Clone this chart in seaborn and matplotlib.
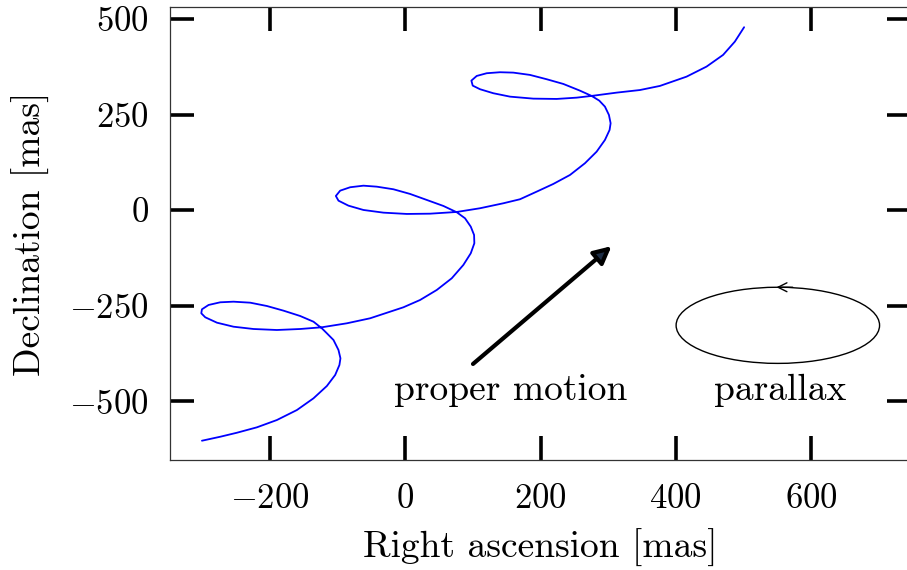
import matplotlib
matplotlib.use("Agg")
import matplotlib.pyplot as plt
from matplotlib.patches import Ellipse
import seaborn as sns
import pandas as pd

# Apparent stellar path, in mas
ra = [-301, -273.9, -249.2, -219.7, -190.1, -160.5, -136, -116.2, -103.9, -97.6,
      -96.1, -99, -106.4, -116.2, -123.6, -136, -155.7, -180.3, -204.9, -229.6,
      -254.3, -273.9, -291.2, -301, -302, -296.1, -278.8, -254.3, -224.7, -190.1,
      -155.7, -123.6, -86.6, -52.2, -3, 21.7, 46.4, 68.6, 85.7, 96.7,
      102, 101.6, 96.7, 88.2, 76, 56.2, 31.6, 6.9, -17.7, -42.3,
      -62.1, -81.7, -96.5, -102.9, -99, -84.3, -62.1, -32.5, 2.1, 36.5,
      76, 110.4, 144.9, 169.5, 194.2, 218.8, 243.5, 265.6, 282.9, 295.2,
      302.1, 303.6, 301.1, 295.2, 286.8, 275.5, 258.2, 233.6, 209, 184.3,
      159.6, 140, 120.3, 105.5, 97.6, 99.6, 110.4, 130.1, 154.8, 189.2,
      223.8, 253.4, 275.5, 312.5, 347, 376.5, 416, 445.5, 470, 487.4, 501.1]
dec = [-602.6, -592.2, -581.7, -567.6, -548.5, -522.4, -491.8, -459.6, -430.8, -404.7,
       -387.2, -365.5, -339.3, -321.8, -308.8, -291.5, -276.6, -262.7, -250.5, -241.8,
       -239.2, -240.8, -247.8, -259.1, -269.5, -280, -294.1, -304.6, -310.6, -313.2,
       -310.6, -306.1, -295.7, -282.6, -253.9, -234.8, -208.6, -178, -143.3, -112.7,
       -86.5, -64.8, -43.1, -21.2, -5.5, 11, 26.7, 42.4, 54.6, 61.4,
       64, 59.9, 51, 37.1, 24.8, 11.8, 0.5, -6.5, -9.9, -9.2,
       -4.7, 5, 18, 28.5, 48.4, 68.5, 92, 122.6, 152.9, 183.5,
       209.7, 227.2, 248.9, 270.6, 286.3, 298.6, 312.4, 329.9, 342.2, 353.5,
       359.5, 360.5, 357.9, 350.8, 338.6, 325.5, 316.1, 305.6, 296.7, 291.5,
       290.7, 294.1, 298.6, 307.2, 314, 324.7, 349, 375.2, 405.8, 440.5, 478.2]

# proper-motion arrow (start, end) and parallax ellipse
pm_start = (100, -402)
pm_end = (305, -94)
plx_center = (551, -301)
plx_width = 301
plx_height = 199

xticks = [-200, 0, 200, 400, 600]
yticks = [-500, -250, 0, 250, 500]

df = pd.DataFrame({"ra": ra, "dec": dec})

sns.set_theme(style="white")
plt.rcParams["font.family"] = "serif"
plt.rcParams["font.serif"] = ["cmr10", "DejaVu Serif"]
plt.rcParams["mathtext.fontset"] = "cm"
plt.rcParams["axes.formatter.use_mathtext"] = True
plt.rcParams["text.color"] = "black"
plt.rcParams["axes.labelcolor"] = "black"
plt.rcParams["xtick.color"] = "black"
plt.rcParams["ytick.color"] = "black"

fig = plt.figure(figsize=(9.07, 5.70), dpi=100)
ax = fig.add_axes([169.5 / 907, 110 / 570, (911 - 169.5) / 907, (460 - 7) / 570])

sns.lineplot(data=df, x="ra", y="dec", sort=False, estimator=None,
             color="#0000ff", lw=1.3, ax=ax)

ax.annotate("", xy=pm_end, xytext=pm_start,
            arrowprops=dict(arrowstyle="-|>", lw=3, ec="black", fc="#1c2c44",
                            mutation_scale=26, shrinkA=0, shrinkB=0))

ax.add_patch(Ellipse(plx_center, plx_width, plx_height, fill=False,
                     ec="black", lw=1.0))
top_y = plx_center[1] + plx_height / 2
ax.annotate("", xy=(plx_center[0] - 2, top_y), xytext=(plx_center[0] + 22, top_y),
            arrowprops=dict(arrowstyle="->", lw=1.0, color="black",
                            mutation_scale=16, shrinkA=0, shrinkB=0))

ax.text(155, -470, "proper motion", ha="center", va="center", fontsize=27)
ax.text(554, -470, "parallax", ha="center", va="center", fontsize=27)

ax.set_xlim(-349, 748)
ax.set_ylim(-653, 531)
ax.set_xticks(xticks)
ax.set_yticks(yticks)
ax.tick_params(direction="in", length=17, width=2.6, top=True, right=True,
               bottom=True, left=True, labelsize=25, color="black",
               labelcolor="black")
ax.tick_params(axis="x", pad=17)
ax.tick_params(axis="y", pad=15)
ax.set_xlabel("Right ascension [mas]", fontsize=27, labelpad=10)
ax.set_ylabel("Declination [mas]", fontsize=27, labelpad=14)
for sp in ax.spines.values():
    sp.set_linewidth(0.9)
    sp.set_color("#333333")

fig.savefig("out.png", dpi=100)
